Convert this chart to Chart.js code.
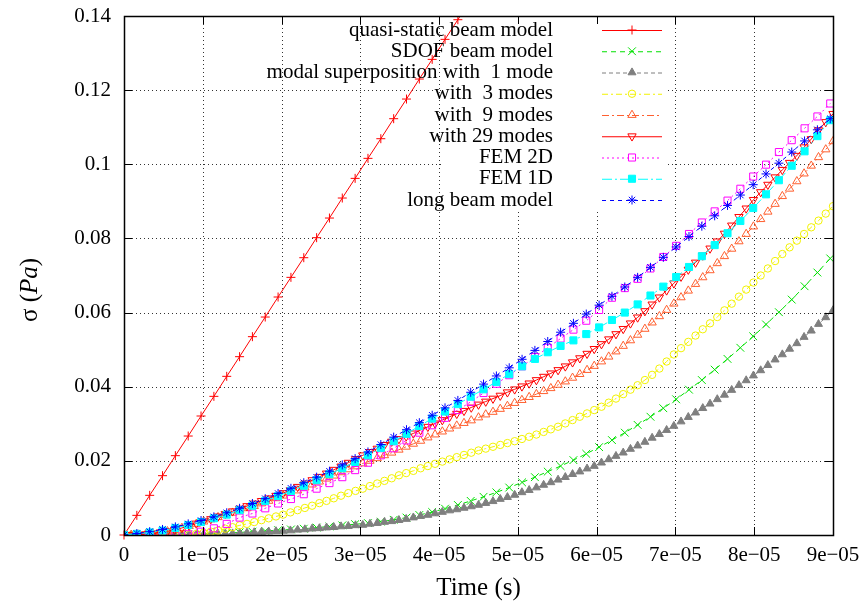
<!DOCTYPE html>
<html>
<head>
<meta charset="utf-8">
<title>sigma vs time</title>
<script src="https://cdn.jsdelivr.net/npm/chart.js@4.4.0/dist/chart.umd.min.js"></script>
<style>
  html, body { margin: 0; padding: 0; background: #fff; }
  #chart { display: block; }
</style>
</head>
<body>
<canvas id="chart" width="863" height="603"></canvas>
<script>
// time in units of 1e-05 s
const timeFine = [
  0, 0.092, 0.184, 0.276, 0.367, 0.459, 0.551, 0.643, 0.735, 0.827,
  0.918, 1.01, 1.102, 1.194, 1.286, 1.378, 1.469, 1.561, 1.653, 1.745,
  1.837, 1.929, 2.02, 2.112, 2.204, 2.296, 2.388, 2.48, 2.571, 2.663,
  2.755, 2.847, 2.939, 3.031, 3.122, 3.214, 3.306, 3.398, 3.49, 3.582,
  3.673, 3.765, 3.857, 3.949, 4.041, 4.133, 4.224, 4.316, 4.408, 4.5,
  4.592, 4.684, 4.776, 4.867, 4.959, 5.051, 5.143, 5.235, 5.327, 5.418,
  5.51, 5.602, 5.694, 5.786, 5.878, 5.969, 6.061, 6.153, 6.245, 6.337,
  6.429, 6.52, 6.612, 6.704, 6.796, 6.888, 6.98, 7.071, 7.163, 7.255,
  7.347, 7.439, 7.531, 7.622, 7.714, 7.806, 7.898, 7.99, 8.082, 8.173,
  8.265, 8.357, 8.449, 8.541, 8.633, 8.724, 8.816, 8.908, 9.0,
];
const timeCoarse = [
  0, 0.163, 0.326, 0.489, 0.652, 0.815, 0.978, 1.141, 1.304, 1.467,
  1.63, 1.793, 1.956, 2.119, 2.282, 2.445, 2.608, 2.771, 2.934, 3.097,
  3.26, 3.423, 3.586, 3.749, 3.912, 4.075, 4.238, 4.401, 4.564, 4.727,
  4.89, 5.053, 5.216, 5.379, 5.542, 5.705, 5.868, 6.031, 6.194, 6.357,
  6.52, 6.683, 6.846, 7.009, 7.172, 7.335, 7.498, 7.661, 7.824, 7.987,
  8.15, 8.313, 8.476, 8.639, 8.802, 8.965,
];

const xTickValues = [0, 1, 2, 3, 4, 5, 6, 7, 8, 9];
const xTickLabels = ["0", "1e\u221205", "2e\u221205", "3e\u221205", "4e\u221205",
  "5e\u221205", "6e\u221205", "7e\u221205", "8e\u221205", "9e\u221205"];
const yTickValues = [0, 0.02, 0.04, 0.06, 0.08, 0.1, 0.12, 0.14];
const yTickLabels = ["0", "0.02", "0.04", "0.06", "0.08", "0.1", "0.12", "0.14"];

const seriesLabels = [
  "quasi-static beam model",
  "SDOF beam model",
  "modal superposition with  1 mode",
  "with  3 modes",
  "with  9 modes",
  "with 29 modes",
  "FEM 2D",
  "FEM 1D",
  "long beam model",
];

// sigma (Pa)
const quasiStatic = [
  0, 0.0053, 0.0107, 0.016, 0.0214, 0.0267, 0.0321, 0.0374, 0.0428, 0.0481,
  0.0535, 0.0588, 0.0642, 0.0695, 0.0748, 0.0802, 0.0855, 0.0909, 0.0962, 0.1016,
  0.1069, 0.1123, 0.1176, 0.123, 0.1283, 0.1337, 0.139, 0.1444,
];
const sdof = [
  0, 0, 0, 0.0001, 0.0001, 0.0002, 0.0003, 0.0004, 0.0005, 0.0007,
  0.0009, 0.0011, 0.0013, 0.0015, 0.0017, 0.002, 0.0023, 0.0026, 0.0029, 0.0032,
  0.0036, 0.0041, 0.0047, 0.0054, 0.0062, 0.0071, 0.0081, 0.0092, 0.0103, 0.0115,
  0.0128, 0.0142, 0.0156, 0.0171, 0.0186, 0.0202, 0.0219, 0.0237, 0.0256, 0.0276,
  0.0297, 0.0319, 0.0342, 0.0366, 0.0392, 0.0418, 0.0446, 0.0475, 0.0505, 0.0536,
  0.0568, 0.0601, 0.0635, 0.0671, 0.0708, 0.0746,
];
const oneMode = [
  0, 0, 0, 0, 0, 0, 0.0001, 0.0001, 0.0001, 0.0001,
  0.0002, 0.0002, 0.0003, 0.0003, 0.0004, 0.0004, 0.0005, 0.0006, 0.0007, 0.0008,
  0.0009, 0.001, 0.0011, 0.0012, 0.0014, 0.0015, 0.0017, 0.0018, 0.002, 0.0021,
  0.0023, 0.0024, 0.0026, 0.0027, 0.003, 0.0032, 0.0035, 0.0037, 0.004, 0.0043,
  0.0047, 0.0051, 0.0054, 0.0058, 0.0062, 0.0066, 0.0069, 0.0073, 0.0077, 0.0081,
  0.0086, 0.0091, 0.0097, 0.0102, 0.0108, 0.0115, 0.0121, 0.0128, 0.0135, 0.0142,
  0.0149, 0.0156, 0.0164, 0.0171, 0.0179, 0.0186, 0.0195, 0.0204, 0.0213, 0.0222,
  0.0232, 0.0241, 0.0251, 0.0262, 0.0272, 0.0283, 0.0294, 0.0306, 0.0318, 0.033,
  0.0342, 0.0354, 0.0366, 0.0378, 0.0391, 0.0404, 0.0417, 0.043, 0.0444, 0.0458,
  0.0473, 0.0487, 0.0502, 0.0517, 0.0534, 0.0551, 0.0569, 0.0587, 0.0606,
];
const threeModes = [
  0, 0, 0, 0, 0, 0, 0, 0, 0, 0.0001,
  0.0003, 0.0006, 0.0009, 0.0012, 0.0017, 0.0021, 0.0026, 0.003, 0.0035, 0.004,
  0.0045, 0.005, 0.0055, 0.0061, 0.0067, 0.0073, 0.0079, 0.0086, 0.0092, 0.0099,
  0.0106, 0.0113, 0.0119, 0.0125, 0.0132, 0.0139, 0.0146, 0.0153, 0.0161, 0.0167,
  0.0173, 0.018, 0.0186, 0.0192, 0.0198, 0.0204, 0.021, 0.0216, 0.0222, 0.0228,
  0.0233, 0.0238, 0.0243, 0.0248, 0.0253, 0.0259, 0.0265, 0.0271, 0.0278, 0.0285,
  0.0292, 0.0301, 0.031, 0.0319, 0.0328, 0.0337, 0.0346, 0.0357, 0.0368, 0.038,
  0.0392, 0.0404, 0.0418, 0.0432, 0.0449, 0.0468, 0.0487, 0.0504, 0.0521, 0.0538,
  0.0555, 0.0571, 0.0588, 0.0606, 0.0624, 0.0643, 0.0662, 0.0681, 0.07, 0.0719,
  0.0739, 0.0758, 0.0776, 0.0794, 0.0812, 0.083, 0.0848, 0.0867, 0.0887,
];
const nineModes = [
  0, 0, 0.0001, 0.0002, 0.0004, 0.0007, 0.001, 0.0014, 0.0019, 0.0024,
  0.003, 0.0036, 0.0042, 0.0048, 0.0054, 0.006, 0.0066, 0.0072, 0.0078, 0.0085,
  0.0092, 0.0099, 0.0106, 0.0113, 0.012, 0.0128, 0.0136, 0.0144, 0.0152, 0.016,
  0.0169, 0.0177, 0.0185, 0.0193, 0.02, 0.0207, 0.0215, 0.0222, 0.023, 0.0238,
  0.0246, 0.0254, 0.0263, 0.0271, 0.0279, 0.0287, 0.0295, 0.0302, 0.0309, 0.0317,
  0.0325, 0.0332, 0.034, 0.0348, 0.0356, 0.0364, 0.0372, 0.038, 0.0388, 0.0396,
  0.0405, 0.0414, 0.0424, 0.0434, 0.0445, 0.0456, 0.0468, 0.0481, 0.0495, 0.051,
  0.0525, 0.054, 0.0556, 0.0573, 0.059, 0.0607, 0.0624, 0.0641, 0.0659, 0.0677,
  0.0695, 0.0714, 0.0733, 0.0752, 0.0772, 0.0792, 0.0812, 0.0832, 0.0852, 0.0872,
  0.0893, 0.0914, 0.0934, 0.0954, 0.0975, 0.0996, 0.1019, 0.104, 0.1062,
];
const twentyNineModes = [
  0, 0, 0.0001, 0.0002, 0.0004, 0.0007, 0.001, 0.0014, 0.0019, 0.0025,
  0.0031, 0.0037, 0.0043, 0.005, 0.0057, 0.0064, 0.0071, 0.0078, 0.0085, 0.0092,
  0.0099, 0.0106, 0.0113, 0.0121, 0.013, 0.0139, 0.0148, 0.0157, 0.0166, 0.0176,
  0.0185, 0.0195, 0.0205, 0.0215, 0.0224, 0.0233, 0.0243, 0.0252, 0.0259, 0.0266,
  0.0274, 0.0283, 0.0292, 0.0301, 0.031, 0.0319, 0.0327, 0.0335, 0.0344, 0.0352,
  0.036, 0.0368, 0.0376, 0.0385, 0.0393, 0.0401, 0.0409, 0.0418, 0.0427, 0.0436,
  0.0445, 0.0455, 0.0466, 0.0477, 0.0489, 0.0502, 0.0515, 0.0528, 0.0542, 0.0556,
  0.0571, 0.0587, 0.0604, 0.0622, 0.0641, 0.066, 0.0679, 0.0697, 0.0716, 0.0735,
  0.0754, 0.0773, 0.0792, 0.0813, 0.0835, 0.0858, 0.0881, 0.0904, 0.0925, 0.0945,
  0.0965, 0.0985, 0.1004, 0.1023, 0.1046, 0.1068, 0.1092, 0.1114, 0.1136,
];
const fem2d = [
  0, 0, 0, 0, 0, 0.0002, 0.0009, 0.0018, 0.003, 0.0047,
  0.0058, 0.0072, 0.0085, 0.0097, 0.011, 0.0125, 0.014, 0.0156, 0.0175, 0.0195,
  0.0215, 0.0234, 0.0255, 0.0276, 0.0296, 0.0316, 0.0337, 0.0359, 0.0383, 0.0408,
  0.0431, 0.0455, 0.048, 0.0505, 0.053, 0.0554, 0.0578, 0.0607, 0.064, 0.0666,
  0.0691, 0.0719, 0.075, 0.078, 0.0812, 0.0843, 0.0873, 0.0902, 0.0934, 0.0967,
  0.0999, 0.1033, 0.1065, 0.1097, 0.1129, 0.1164,
];
const fem1d = [
  0, 0.0003, 0.0007, 0.0012, 0.0019, 0.0027, 0.0035, 0.0045, 0.0055, 0.0067,
  0.0079, 0.0092, 0.0105, 0.0119, 0.0133, 0.0148, 0.0164, 0.018, 0.0197, 0.0215,
  0.0235, 0.0253, 0.0273, 0.0294, 0.0314, 0.0333, 0.0353, 0.0373, 0.0393, 0.0413,
  0.0434, 0.0455, 0.0475, 0.0493, 0.051, 0.0525, 0.0542, 0.056, 0.058, 0.06,
  0.0622, 0.0646, 0.067, 0.0696, 0.0723, 0.0752, 0.0782, 0.0814, 0.0847, 0.0882,
  0.0919, 0.0957, 0.0996, 0.1035, 0.1076, 0.1119,
];
const longBeam = [
  0, 0.0004, 0.0009, 0.0015, 0.0022, 0.003, 0.0039, 0.0049, 0.006, 0.0072,
  0.0085, 0.0098, 0.0112, 0.0126, 0.0141, 0.0156, 0.0172, 0.0189, 0.0206, 0.0224,
  0.0244, 0.0264, 0.0284, 0.0303, 0.0323, 0.0343, 0.0363, 0.0385, 0.0407, 0.0429,
  0.0451, 0.0474, 0.0498, 0.0522, 0.0547, 0.0571, 0.0596, 0.062, 0.0644, 0.0669,
  0.0695, 0.0722, 0.0749, 0.0777, 0.0805, 0.0833, 0.0861, 0.0889, 0.0917, 0.0945,
  0.0974, 0.1003, 0.1033, 0.1063, 0.1093, 0.1123,
];

const FONT = "'Liberation Serif', 'DejaVu Serif', serif";
const OPEN = "rgba(0,0,0,0)";

function points(times, values) {
  return values.map((v, i) => ({ x: times[i], y: v }));
}

function makeSeries(i, data, color, dash, style, radius, filled, rotation) {
  return {
    label: seriesLabels[i],
    data,
    order: -i,
    borderColor: color,
    borderWidth: 1,
    borderDash: dash,
    backgroundColor: filled ? color : OPEN,
    pointStyle: style,
    pointRadius: radius,
    pointRotation: rotation || 0,
    pointBorderColor: color,
    pointBackgroundColor: filled ? color : OPEN,
    pointBorderWidth: 1,
    pointHoverRadius: radius,
    tension: 0,
    fill: false,
  };
}

const datasets = [
  makeSeries(0, points(timeCoarse, quasiStatic), "#ff0000", [], "cross", 4.5, false),
  makeSeries(1, points(timeCoarse, sdof), "#00e000", [5, 4], "crossRot", 5.5, false),
  makeSeries(2, points(timeFine, oneMode), "#7f7f7f", [4, 3], "triangle", 4.6, true),
  makeSeries(3, points(timeFine, threeModes), "#f2f200", [6, 3, 2, 3], "circle", 3.7, false),
  makeSeries(4, points(timeFine, nineModes), "#ff6030", [7, 3, 2, 3], "triangle", 4.8, false),
  makeSeries(5, points(timeFine, twentyNineModes), "#ff0000", [], "triangle", 4.8, false, 180),
  makeSeries(6, points(timeCoarse, fem2d), "#ff00ff", [2, 3], "rect", 5, false),
  makeSeries(7, points(timeCoarse, fem1d), "#00ffff", [10, 3, 2, 3], "rect", 5, true),
  makeSeries(8, points(timeCoarse, longBeam), "#0000ff", [4, 4], "star", 4.5, false),
];
// the quasi-static line leaves through the top of the frame
datasets[0].clip = { left: 6, right: 6, bottom: 6, top: 0 };

// scales keep a fixed box and do not push the plot area for label overflow
function fixBox(s, size) {
  if (s.axis === "x") s.height = size;
  else s.width = size;
  s.paddingTop = 0;
  s.paddingBottom = 0;
  s.paddingLeft = 0;
  s.paddingRight = 0;
}

// grid, opaque key box, frame with inward ticks, key and axis titles
const gnuplotFrame = {
  id: "gnuplotFrame",
  beforeDatasetsDraw(chart) {
    const { ctx, chartArea: a, scales } = chart;
    ctx.save();
    ctx.strokeStyle = "#333";
    ctx.lineWidth = 1;
    ctx.setLineDash([1, 3]);
    ctx.beginPath();
    xTickValues.forEach((v) => {
      const px = Math.round(scales.x.getPixelForValue(v)) + 0.5;
      if (px <= a.left + 2 || px >= a.right - 2) return;
      ctx.moveTo(px, a.top);
      ctx.lineTo(px, a.bottom);
    });
    yTickValues.forEach((v) => {
      const py = Math.round(scales.y.getPixelForValue(v)) + 0.5;
      if (py <= a.top + 2 || py >= a.bottom - 2) return;
      ctx.moveTo(a.left, py);
      ctx.lineTo(a.right, py);
    });
    ctx.stroke();
    ctx.fillStyle = "#fff";
    ctx.fillRect(441, a.top + 2, 668 - 441, 210 - a.top);
    ctx.restore();
  },
  afterDatasetsDraw(chart) {
    const { ctx, chartArea: a, scales } = chart;
    const tick = 8;
    ctx.save();
    ctx.strokeStyle = "#000";
    ctx.lineWidth = 1;
    ctx.setLineDash([]);
    ctx.beginPath();
    xTickValues.forEach((v) => {
      const px = Math.round(scales.x.getPixelForValue(v)) + 0.5;
      ctx.moveTo(px, a.bottom);
      ctx.lineTo(px, a.bottom - tick);
      ctx.moveTo(px, a.top);
      ctx.lineTo(px, a.top + tick);
    });
    yTickValues.forEach((v) => {
      const py = Math.round(scales.y.getPixelForValue(v)) + 0.5;
      ctx.moveTo(a.left, py);
      ctx.lineTo(a.left + tick, py);
      ctx.moveTo(a.right, py);
      ctx.lineTo(a.right - tick, py);
    });
    ctx.stroke();
    ctx.lineWidth = 1.5;
    ctx.strokeRect(Math.round(a.left) + 0.5, Math.round(a.top) + 0.5,
      Math.round(a.right - a.left), Math.round(a.bottom - a.top));
    ctx.restore();
  },
  afterDraw(chart) {
    const { ctx, chartArea: a } = chart;
    ctx.save();
    // key
    ctx.font = `21px ${FONT}`;
    ctx.textBaseline = "middle";
    ctx.textAlign = "right";
    chart.data.datasets.forEach((ds, i) => {
      const y = 30 + 21.25 * i;
      ctx.fillStyle = "#000";
      ctx.fillText(ds.label, 553, y);
      ctx.strokeStyle = ds.borderColor;
      ctx.lineWidth = 1;
      ctx.setLineDash(ds.borderDash);
      ctx.beginPath();
      ctx.moveTo(602, y + 0.5);
      ctx.lineTo(662, y + 0.5);
      ctx.stroke();
      ctx.setLineDash([]);
      ctx.fillStyle = ds.pointBackgroundColor;
      Chart.helpers.drawPoint(ctx, {
        pointStyle: ds.pointStyle,
        radius: ds.pointRadius,
        rotation: ds.pointRotation,
        borderWidth: 1,
      }, 632, y);
    });
    // x title
    ctx.fillStyle = "#000";
    ctx.textAlign = "center";
    ctx.font = `25px ${FONT}`;
    ctx.fillText("Time (s)", (a.left + a.right) / 2, 588);
    // y title, rotated
    ctx.translate(30, 290);
    ctx.rotate(-Math.PI / 2);
    ctx.textAlign = "left";
    const parts = [
      ["\u03c3 (", `25px ${FONT}`],
      ["Pa", `italic 25px ${FONT}`],
      [")", `25px ${FONT}`],
    ];
    let total = 0;
    parts.forEach(([t, f]) => { ctx.font = f; total += ctx.measureText(t).width; });
    let x = -total / 2;
    parts.forEach(([t, f]) => {
      ctx.font = f;
      ctx.fillText(t, x, 0);
      x += ctx.measureText(t).width;
    });
    ctx.restore();
  },
};

new Chart(document.querySelector("#chart"), {
  type: "line",
  data: { datasets },
  options: {
    responsive: false,
    animation: false,
    devicePixelRatio: 1,
    layout: { autoPadding: false, padding: { left: 0, right: 30, top: 16, bottom: 0 } },
    plugins: { legend: { display: false }, tooltip: { enabled: false } },
    scales: {
      x: {
        type: "linear",
        min: 0,
        max: 9,
        afterBuildTicks: (s) => { s.ticks = xTickValues.map((v) => ({ value: v })); },
        afterFit: (s) => fixBox(s, 68),
        ticks: {
          callback: (v, i) => xTickLabels[i],
          font: { family: FONT, size: 21 },
          color: "#000",
          padding: 8,
          maxRotation: 0,
          autoSkip: false,
        },
        grid: { display: false, drawTicks: false, tickLength: 0 },
        border: { display: false },
      },
      y: {
        type: "linear",
        min: 0,
        max: 0.14,
        afterBuildTicks: (s) => { s.ticks = yTickValues.map((v) => ({ value: v })); },
        afterFit: (s) => fixBox(s, 124),
        ticks: {
          callback: (v, i) => yTickLabels[i],
          font: { family: FONT, size: 21 },
          color: "#000",
          padding: 13,
          autoSkip: false,
        },
        grid: { display: false, drawTicks: false, tickLength: 0 },
        border: { display: false },
      },
    },
  },
  plugins: [gnuplotFrame],
});
</script>
</body>
</html>
